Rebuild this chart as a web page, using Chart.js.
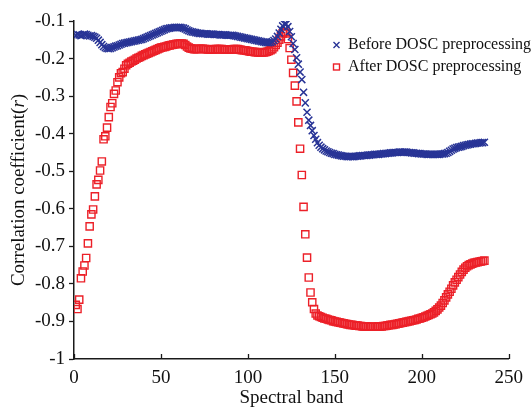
<!DOCTYPE html>
<html>
<head>
<meta charset="utf-8">
<script src="https://cdn.jsdelivr.net/npm/chart.js@4/dist/chart.umd.min.js"></script>
<style>
  html, body { margin: 0; padding: 0; background: #fff; }
  #wrap { width: 531px; height: 410px; }
</style>
</head>
<body>
<div id="wrap"><canvas id="myChart" width="531" height="410"></canvas></div>
<script>
// spectral bands 1..236
const bands = Array.from({ length: 236 }, (_, i) => i + 1);

const seriesNames = ['Before DOSC preprocessing', 'After DOSC preprocessing'];
const xTickValues = [0, 50, 100, 150, 200, 250];
const yTickValues = [-1, -0.9, -0.8, -0.7, -0.6, -0.5, -0.4, -0.3, -0.2, -0.1];
const xTitle = 'Spectral band';

// correlation coefficient before DOSC (bands 1..236)
const beforeDosc = [
  -0.138, -0.136, -0.137, -0.139, -0.137, -0.135, -0.136, -0.138, -0.140, -0.139,
  -0.141, -0.143, -0.146, -0.151, -0.157, -0.163, -0.168, -0.171, -0.173, -0.174,
  -0.173, -0.171, -0.169, -0.167, -0.166, -0.164, -0.162, -0.160, -0.159, -0.158,
  -0.157, -0.156, -0.155, -0.154, -0.153, -0.152, -0.151, -0.150, -0.149, -0.147,
  -0.145, -0.143, -0.141, -0.139, -0.137, -0.135, -0.133, -0.131, -0.129, -0.127,
  -0.125, -0.123, -0.121, -0.120, -0.119, -0.118, -0.118, -0.117, -0.117, -0.117,
  -0.117, -0.118, -0.119, -0.121, -0.124, -0.126, -0.128, -0.129, -0.130, -0.131,
  -0.132, -0.133, -0.133, -0.134, -0.134, -0.134, -0.135, -0.135, -0.135, -0.135,
  -0.136, -0.136, -0.136, -0.137, -0.137, -0.137, -0.137, -0.138, -0.138, -0.138,
  -0.138, -0.139, -0.140, -0.141, -0.142, -0.143, -0.144, -0.145, -0.146, -0.147,
  -0.148, -0.149, -0.150, -0.151, -0.152, -0.153, -0.154, -0.155, -0.156, -0.157,
  -0.158, -0.158, -0.157, -0.155, -0.152, -0.148, -0.141, -0.132, -0.122, -0.113,
  -0.108, -0.108, -0.115, -0.128, -0.142, -0.160, -0.176, -0.198, -0.215, -0.236,
  -0.256, -0.290, -0.318, -0.343, -0.364, -0.378, -0.392, -0.405, -0.415, -0.424,
  -0.431, -0.436, -0.440, -0.443, -0.446, -0.448, -0.450, -0.452, -0.453, -0.455,
  -0.456, -0.457, -0.458, -0.459, -0.460, -0.460, -0.461, -0.461, -0.461, -0.461,
  -0.461, -0.460, -0.460, -0.459, -0.459, -0.458, -0.458, -0.458, -0.457, -0.457,
  -0.456, -0.456, -0.455, -0.455, -0.455, -0.454, -0.454, -0.453, -0.453, -0.452,
  -0.452, -0.451, -0.451, -0.450, -0.450, -0.450, -0.449, -0.449, -0.449, -0.449,
  -0.449, -0.450, -0.450, -0.451, -0.451, -0.452, -0.452, -0.453, -0.453, -0.454,
  -0.454, -0.454, -0.455, -0.455, -0.455, -0.455, -0.455, -0.455, -0.455, -0.455,
  -0.454, -0.454, -0.453, -0.452, -0.450, -0.447, -0.444, -0.441, -0.439, -0.437,
  -0.436, -0.435, -0.434, -0.432, -0.431, -0.430, -0.429, -0.428, -0.427, -0.427,
  -0.426, -0.425, -0.425, -0.424, -0.424, -0.423
];

// correlation coefficient after DOSC (bands 1..236)
const afterDosc = [
  -0.856, -0.867, -0.842, -0.785, -0.767, -0.751, -0.731, -0.692, -0.647, -0.615,
  -0.602, -0.567, -0.535, -0.523, -0.498, -0.474, -0.415, -0.407, -0.384, -0.356,
  -0.329, -0.319, -0.294, -0.285, -0.263, -0.250, -0.239, -0.236, -0.227, -0.218,
  -0.214, -0.211, -0.208, -0.206, -0.203, -0.200, -0.198, -0.196, -0.193, -0.191,
  -0.189, -0.187, -0.185, -0.183, -0.181, -0.179, -0.177, -0.175, -0.173, -0.171,
  -0.170, -0.169, -0.168, -0.166, -0.165, -0.164, -0.163, -0.162, -0.161, -0.161,
  -0.160, -0.160, -0.161, -0.164, -0.168, -0.171, -0.173, -0.174, -0.175, -0.175,
  -0.175, -0.174, -0.174, -0.174, -0.175, -0.175, -0.176, -0.176, -0.176, -0.176,
  -0.175, -0.175, -0.175, -0.175, -0.175, -0.176, -0.176, -0.176, -0.176, -0.176,
  -0.176, -0.175, -0.175, -0.175, -0.176, -0.177, -0.178, -0.178, -0.179, -0.180,
  -0.181, -0.182, -0.182, -0.183, -0.183, -0.184, -0.184, -0.184, -0.184, -0.183,
  -0.182, -0.180, -0.178, -0.175, -0.170, -0.164, -0.158, -0.150, -0.141, -0.133,
  -0.129, -0.133, -0.148, -0.172, -0.203, -0.238, -0.272, -0.314, -0.370, -0.440,
  -0.510, -0.595, -0.668, -0.730, -0.783, -0.823, -0.849, -0.867, -0.879, -0.884,
  -0.886, -0.888, -0.890, -0.892, -0.893, -0.895, -0.896, -0.897, -0.899, -0.900,
  -0.901, -0.902, -0.903, -0.904, -0.905, -0.906, -0.907, -0.908, -0.909, -0.909,
  -0.910, -0.911, -0.911, -0.912, -0.912, -0.913, -0.913, -0.913, -0.914, -0.914,
  -0.914, -0.914, -0.914, -0.914, -0.913, -0.913, -0.913, -0.912, -0.912, -0.911,
  -0.910, -0.909, -0.909, -0.908, -0.907, -0.906, -0.905, -0.904, -0.903, -0.902,
  -0.901, -0.900, -0.899, -0.898, -0.897, -0.896, -0.895, -0.893, -0.892, -0.890,
  -0.889, -0.887, -0.885, -0.883, -0.881, -0.879, -0.876, -0.872, -0.868, -0.863,
  -0.858, -0.851, -0.844, -0.836, -0.828, -0.821, -0.813, -0.804, -0.796, -0.789,
  -0.782, -0.775, -0.768, -0.762, -0.757, -0.753, -0.750, -0.748, -0.746, -0.744,
  -0.743, -0.742, -0.741, -0.740, -0.739, -0.738
];

const BLUE = 'rgb(40, 52, 150)';
const RED = 'rgb(236, 32, 40)';
const AXIS = '#1a1a1a';
const SERIF = '"Liberation Serif", "Times New Roman", serif';

// axis titles, inward x ticks and the legend inside the plot
const decor = {
  id: 'decor',
  afterDraw(chart) {
    const ctx = chart.ctx;
    const area = chart.chartArea;
    const xs = chart.scales.x;
    ctx.save();

    ctx.strokeStyle = AXIS;
    ctx.lineWidth = 1.3;
    xTickValues.forEach(v => {
      const px = Math.round(xs.getPixelForValue(v)) + 0.5;
      ctx.beginPath();
      ctx.moveTo(px, area.bottom);
      ctx.lineTo(px, area.bottom - 5);
      ctx.stroke();
    });

    ctx.fillStyle = '#111';
    ctx.font = '19px ' + SERIF;
    ctx.textAlign = 'center';
    ctx.textBaseline = 'alphabetic';
    ctx.fillText(xTitle, (area.left + area.right) / 2, 403);

    // y title: Correlation coefficient(r) with italic r
    const parts = [
      { t: 'Correlation coefficient(', f: '19px ' + SERIF },
      { t: 'r', f: 'italic 19px ' + SERIF },
      { t: ')', f: '19px ' + SERIF }
    ];
    let total = 0;
    parts.forEach(p => { ctx.font = p.f; p.w = ctx.measureText(p.t).width; total += p.w; });
    ctx.translate(19, (area.top + area.bottom) / 2);
    ctx.rotate(-Math.PI / 2);
    ctx.textAlign = 'left';
    ctx.textBaseline = 'middle';
    let cx = -total / 2;
    parts.forEach(p => { ctx.font = p.f; ctx.fillText(p.t, cx, 0); cx += p.w; });
    ctx.setTransform(1, 0, 0, 1, 0, 0);

    // legend
    const lx = 336.5, rows = [45, 67];
    ctx.lineWidth = 1.4;
    ctx.strokeStyle = BLUE;
    ctx.beginPath();
    ctx.moveTo(lx - 3, rows[0] - 3); ctx.lineTo(lx + 3, rows[0] + 3);
    ctx.moveTo(lx - 3, rows[0] + 3); ctx.lineTo(lx + 3, rows[0] - 3);
    ctx.stroke();
    ctx.strokeStyle = RED;
    ctx.strokeRect(lx - 3, rows[1] - 3, 6, 6);
    ctx.fillStyle = '#111';
    ctx.font = '16px ' + SERIF;
    ctx.textAlign = 'left';
    ctx.textBaseline = 'middle';
    seriesNames.forEach((name, i) => ctx.fillText(name, 348, rows[i]));

    ctx.restore();
  }
};

const ctx = document.getElementById('myChart');
new Chart(ctx, {
  type: 'scatter',
  data: {
    datasets: [
      {
        label: seriesNames[0],
        data: bands.map((b, i) => ({ x: b, y: beforeDosc[i] })),
        pointStyle: 'crossRot',
        pointRadius: 5,
        pointBorderWidth: 1.5,
        borderColor: BLUE,
        backgroundColor: BLUE,
        order: 0
      },
      {
        label: seriesNames[1],
        data: bands.map((b, i) => ({ x: b, y: afterDosc[i] })),
        pointStyle: 'rect',
        pointRadius: 5.1,
        pointBorderWidth: 1.4,
        borderColor: RED,
        backgroundColor: 'rgba(0,0,0,0)',
        order: 1
      }
    ]
  },
  options: {
    responsive: false,
    animation: false,
    devicePixelRatio: 1,
    layout: { padding: { left: 0, right: 21, top: 21, bottom: 0 } },
    plugins: {
      legend: { display: false },
      tooltip: { enabled: false }
    },
    scales: {
      x: {
        type: 'linear',
        min: 0,
        max: 250,
        afterBuildTicks: s => { s.ticks = xTickValues.map(v => ({ value: v })); },
        afterFit: s => { s.height = 51; },
        grid: { drawOnChartArea: false, drawTicks: false },
        border: { display: true, color: AXIS, width: 1.5 },
        ticks: { color: '#111', font: { family: SERIF, size: 19 }, padding: 8, maxRotation: 0 }
      },
      y: {
        type: 'linear',
        min: -1,
        max: -0.1,
        afterBuildTicks: s => { s.ticks = yTickValues.map(v => ({ value: v })); },
        afterFit: s => { s.width = 74; },
        grid: { drawOnChartArea: false, drawTicks: true, tickLength: 5, tickColor: AXIS, tickWidth: 1.3 },
        border: { display: true, color: AXIS, width: 1.5 },
        ticks: {
          color: '#111',
          font: { family: SERIF, size: 19 },
          padding: 4,
          callback: v => String(Math.round(v * 10) / 10)
        }
      }
    }
  },
  plugins: [decor]
});
</script>
</body>
</html>
